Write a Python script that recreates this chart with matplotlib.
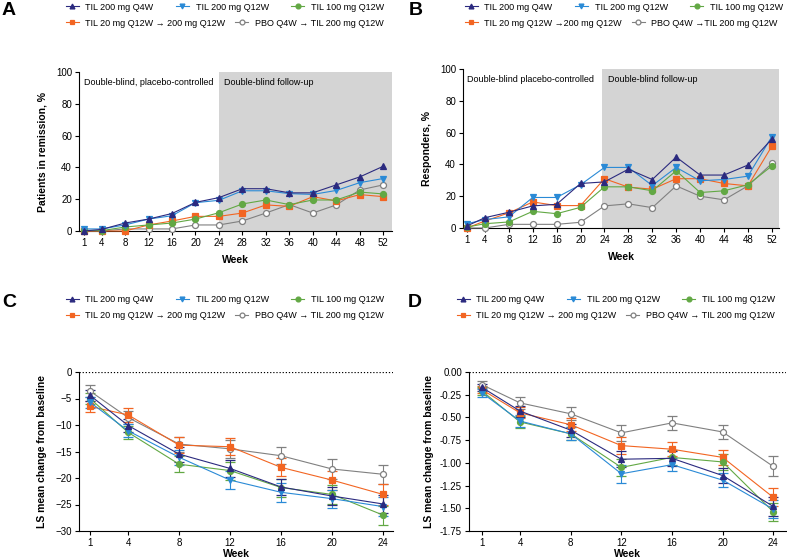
import matplotlib
matplotlib.use("Agg")
import matplotlib.pyplot as plt
from matplotlib.lines import Line2D

plt.rcParams['font.family'] = ['Liberation Sans', 'DejaVu Sans']
plt.rcParams['font.size'] = 7

# ---------------- data ----------------
weeks_long = [1, 4, 8, 12, 16, 20, 24, 28, 32, 36, 40, 44, 48, 52]
weeks_short = [1, 4, 8, 12, 16, 20, 24]

series_names = ["TIL 200 mg Q4W", "TIL 200 mg Q12W", "TIL 100 mg Q12W",
                "TIL 20 mg Q12W \u2192 200 mg Q12W", "PBO Q4W \u2192 TIL 200 mg Q12W"]
series_names_b = ["TIL 200 mg Q4W", "TIL 200 mg Q12W", "TIL 100 mg Q12W",
                  "TIL 20 mg Q12W \u2192200 mg Q12W", "PBO Q4W \u2192TIL 200 mg Q12W"]

# Panel A: patients in remission, %
remit_q4w = [0, 1, 5, 7.5, 11, 18, 21, 26.6, 26.6, 24, 24, 29, 34, 40.7]
remit_q12w = [1.3, 1.3, 3.8, 7.5, 9.6, 17.8, 19.3, 25.3, 25.3, 23.5, 23, 25.5, 30.4, 33]
remit_100 = [0.4, 0.2, 2.5, 3.8, 5, 7.5, 11.5, 17, 19.5, 16.6, 19.5, 19.5, 24.5, 23.3]
remit_20 = [0, 0, 0, 3.8, 6.3, 9.2, 9.2, 11.3, 16.4, 15.5, 21.6, 18.9, 22.9, 21.6]
remit_pbo = [0, 0, 1.3, 1.3, 1.3, 3.8, 3.8, 6.3, 11.3, 16.6, 11.3, 16.4, 25.8, 29]

# Panel B: responders, %
resp_q4w = [1.3, 6.5, 9.9, 13.9, 14.9, 28, 29, 37, 30.5, 44.6, 33.3, 33.3, 39.6, 56]
resp_q12w = [2.7, 5.3, 7, 19.2, 19.2, 27.2, 38.1, 38.1, 26.7, 38.1, 29.7, 30.5, 32.6, 57.5]
resp_100 = [0.6, 2.7, 3.8, 10.5, 9, 13, 25.9, 25.9, 23.4, 36, 22.3, 23.4, 27.2, 39]
resp_20 = [0, 4.4, 9.5, 16.4, 14.1, 14.1, 31, 25.7, 24.4, 31, 31, 28, 26.5, 51.4]
resp_pbo = [0, 0, 2.3, 2.3, 2.3, 3.6, 13.9, 15.2, 12.8, 26.5, 20, 17.7, 26.5, 40.6]

# Panel C: LS mean change from baseline (score), mean and SE
c_q4w = [-4.4, -10.1, -15.5, -18.2, -21.7, -23.4, -24.9]
c_q12w = [-5.7, -11.1, -16.1, -20.4, -22.7, -23.9, -25.4]
c_100 = [-5.0, -11.4, -17.4, -18.6, -21.8, -23.1, -27.0]
c_20 = [-6.5, -8.1, -13.8, -14.1, -18.0, -20.4, -23.1]
c_pbo = [-3.6, -8.6, -13.6, -14.5, -15.8, -18.3, -19.3]
c_q4w_se = [1.0, 1.2, 1.4, 1.6, 1.6, 1.7, 1.7]
c_q12w_se = [1.0, 1.2, 1.4, 1.7, 1.8, 1.7, 1.8]
c_100_se = [1.0, 1.3, 1.5, 1.7, 1.7, 1.8, 1.8]
c_20_se = [1.1, 1.3, 1.5, 1.6, 1.7, 1.8, 1.9]
c_pbo_se = [1.1, 1.2, 1.4, 1.7, 1.6, 1.8, 1.8]

# Panel D: LS mean change from baseline, mean and SE
d_q4w = [-0.17, -0.43, -0.64, -0.96, -0.95, -1.14, -1.48]
d_q12w = [-0.23, -0.54, -0.68, -1.12, -1.02, -1.19, -1.51]
d_100 = [-0.21, -0.55, -0.68, -1.05, -0.94, -0.99, -1.54]
d_20 = [-0.195, -0.45, -0.58, -0.81, -0.85, -0.94, -1.38]
d_pbo = [-0.14, -0.34, -0.46, -0.67, -0.56, -0.66, -1.04]
d_q4w_se = [0.04, 0.06, 0.07, 0.09, 0.08, 0.08, 0.10]
d_q12w_se = [0.04, 0.07, 0.07, 0.10, 0.07, 0.08, 0.10]
d_100_se = [0.04, 0.07, 0.07, 0.09, 0.08, 0.09, 0.10]
d_20_se = [0.04, 0.06, 0.07, 0.09, 0.08, 0.08, 0.10]
d_pbo_se = [0.04, 0.07, 0.07, 0.09, 0.08, 0.08, 0.11]

colors = ["#2b2a7f", "#2a8ad6", "#62a844", "#f26522", "#808080"]
markers = ["^", "v", "o", "s", "o"]

fig = plt.figure(figsize=(7.87, 5.6), dpi=100)
W, H = 787, 560


def add_ax(l, t, r, b):
    return fig.add_axes([l / W, 1 - b / H, (r - l) / W, (b - t) / H])


def style(ax):
    for s in ["top", "right"]:
        ax.spines[s].set_visible(False)
    for s in ["left", "bottom"]:
        ax.spines[s].set_linewidth(0.8)
    ax.tick_params(width=0.8, length=3, labelsize=7, pad=2)


def draw_series(ax, x, ys, errs=None):
    # draw back-to-front: pbo, 20mg, 100mg, q12w, q4w
    for i in [4, 3, 2, 1, 0]:
        mfc = "white" if i == 4 else colors[i]
        if errs is None:
            ax.plot(x, ys[i], color=colors[i], lw=0.8, marker=markers[i], ms=4.3,
                    mfc=mfc, mec=colors[i], mew=0.9, clip_on=False, zorder=3)
        else:
            ax.errorbar(x, ys[i], yerr=errs[i], color=colors[i], lw=0.8,
                        marker=markers[i], ms=4.3, mfc=mfc, mec=colors[i], mew=0.9,
                        ecolor=colors[i], elinewidth=0.8, capsize=3.5, capthick=0.8,
                        clip_on=False, zorder=3)


def add_legend(names, x0, y0):
    handles = []
    for i in range(5):
        mfc = "white" if i == 4 else colors[i]
        handles.append(Line2D([], [], color=colors[i], lw=0.8, marker=markers[i],
                              ms=3.5, mfc=mfc, mec=colors[i], mew=0.9))
    kw = dict(frameon=False, fontsize=6.5, handlelength=1.4, handletextpad=0.75,
              borderaxespad=0, borderpad=0, bbox_transform=fig.transFigure, loc="center left")
    fig.legend(handles[:3], names[:3], ncol=3, columnspacing=2.5,
               bbox_to_anchor=(x0 / W, 1 - y0 / H), **kw)
    fig.legend(handles[3:], names[3:], ncol=2, columnspacing=1.1,
               bbox_to_anchor=(x0 / W, 1 - (y0 + 16) / H), **kw)


# ---------------- Panel A ----------------
axA = add_ax(79, 72, 392, 231)
axA.axvspan(24, 53.5, color="#d4d4d4", zorder=0, lw=0)
draw_series(axA, weeks_long, [remit_q4w, remit_q12w, remit_100, remit_20, remit_pbo])
axA.set_xlim(0.15, 53.5)
axA.set_ylim(0, 100)
axA.set_xticks(weeks_long)
axA.set_yticks([0, 20, 40, 60, 80, 100])
axA.set_xlabel("Week", fontweight="bold", fontsize=7.5, labelpad=5)
axA.set_ylabel("Patients in remission, %", fontweight="bold", fontsize=7.5, labelpad=6)
axA.text(1, 96.5, "Double-blind, placebo-controlled", va="top", fontsize=6.5)
axA.text(24.9, 96.5, "Double-blind follow-up", va="top", fontsize=6.5)
style(axA)

# ---------------- Panel B ----------------
axB = add_ax(463, 69, 779, 228)
axB.axvspan(23.6, 53.2, color="#d4d4d4", zorder=0, lw=0)
draw_series(axB, weeks_long, [resp_q4w, resp_q12w, resp_100, resp_20, resp_pbo])
axB.set_xlim(0.33, 53.2)
axB.set_ylim(0, 100)
axB.set_xticks(weeks_long)
axB.set_yticks([0, 20, 40, 60, 80, 100])
axB.set_xlabel("Week", fontweight="bold", fontsize=7.5, labelpad=5)
axB.set_ylabel("Responders, %", fontweight="bold", fontsize=7.5, labelpad=6)
axB.text(1.0, 96.5, "Double-blind placebo-controlled", va="top", fontsize=6.5)
axB.text(24.6, 96.5, "Double-blind follow-up", va="top", fontsize=6.5)
style(axB)

# ---------------- Panel C ----------------
axC = add_ax(79, 372, 393, 531)
axC.axhline(0, color="black", lw=0.9, ls=(0, (1, 1.5)), zorder=1)
draw_series(axC, weeks_short, [c_q4w, c_q12w, c_100, c_20, c_pbo],
            [c_q4w_se, c_q12w_se, c_100_se, c_20_se, c_pbo_se])
axC.set_xlim(0.14, 24.78)
axC.set_ylim(-30, 0)
axC.set_xticks(weeks_short)
axC.set_yticks([0, -5, -10, -15, -20, -25, -30])
axC.set_xlabel("Week", fontweight="bold", fontsize=7.5, labelpad=1)
axC.set_ylabel("LS mean change from baseline", fontweight="bold", fontsize=7.5, labelpad=6)
style(axC)

# ---------------- Panel D ----------------
axD = add_ax(469, 372, 786, 531)
axD.axhline(0, color="black", lw=0.9, ls=(0, (1, 1.5)), zorder=1)
draw_series(axD, weeks_short, [d_q4w, d_q12w, d_100, d_20, d_pbo],
            [d_q4w_se, d_q12w_se, d_100_se, d_20_se, d_pbo_se])
axD.set_xlim(-0.03, 25.0)
axD.set_ylim(-1.75, 0)
axD.set_xticks(weeks_short)
axD.set_yticks([0, -0.25, -0.5, -0.75, -1.0, -1.25, -1.5, -1.75])
axD.set_yticklabels(["0.00", "-0.25", "-0.50", "-0.75", "-1.00", "-1.25", "-1.50", "-1.75"])
axD.set_xlabel("Week", fontweight="bold", fontsize=7.5, labelpad=1)
axD.set_ylabel("LS mean change from baseline", fontweight="bold", fontsize=7.5, labelpad=4)
style(axD)

# ---------------- legends and panel letters ----------------
add_legend(series_names, 66, 7)
add_legend(series_names_b, 465, 7)
add_legend(series_names, 66, 300)
add_legend(series_names, 457, 300)

for letter, x, y in [("A", 2, 2), ("B", 409, 2), ("C", 2, 294), ("D", 408, 294)]:
    fig.text(x / W, 1 - y / H, letter, fontsize=14, fontweight="bold", va="top", ha="left")

fig.savefig("out.png", dpi=100)
